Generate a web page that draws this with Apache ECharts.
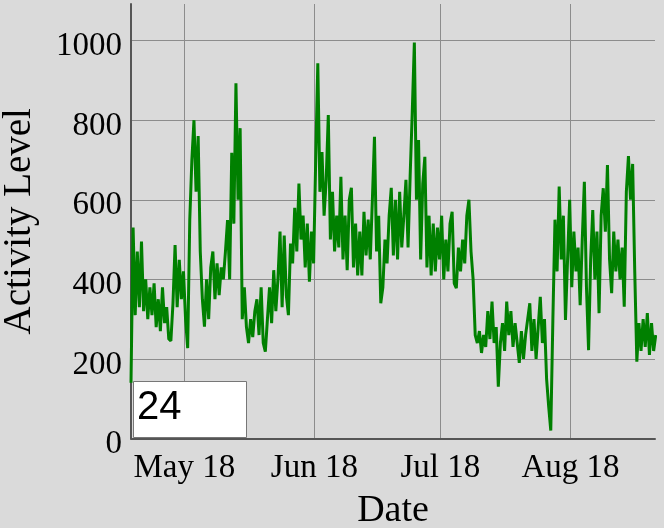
<!DOCTYPE html>
<html>
<head>
<meta charset="utf-8">
<script src="https://cdn.jsdelivr.net/npm/echarts@6/dist/echarts.min.js"></script>
<style>
  html, body { margin: 0; padding: 0; background: #dadada; }
  #chart { width: 664px; height: 528px; }
</style>
</head>
<body>
<div id="chart"></div>
<script>
// ---- DATA ----
// samples every 12 hours starting at the first sample time
const firstSample = new Date(2018, 3, 18, 7, 30).getTime();
const lastVisible = new Date(2018, 7, 21, 3, 20).getTime();
const stepMs = 12 * 3600 * 1000;

const activityPart1 = [
  140, 530, 310, 470, 330, 495, 320, 400, 300, 380,
  310, 390, 280, 350, 270, 380, 290, 330, 250, 245,
  340, 486, 330, 449, 350, 420, 300, 227, 549, 700,
  800, 620, 760, 470, 350, 281, 400, 300, 430, 470,
  350, 440, 360, 430, 400, 470, 549, 400, 718, 540
];
const activityPart2 = [
  893, 600, 780, 300, 380, 280, 240, 300, 255, 320,
  350, 260, 380, 240, 218, 300, 380, 290, 423, 320,
  400, 520, 330, 510, 360, 310, 490, 440, 580, 470,
  641, 500, 560, 430, 540, 394, 520, 440, 700, 943,
  620, 720, 560, 650, 813, 500, 620, 470, 560, 480
];
const activityPart3 = [
  658, 450, 560, 423, 600, 630, 430, 540, 410, 520,
  410, 570, 460, 550, 450, 600, 758, 470, 560, 340,
  380, 500, 440, 560, 630, 460, 600, 450, 620, 480,
  560, 650, 480, 660, 820, 995, 600, 750, 450, 640,
  708, 430, 560, 410, 540, 420, 530, 450, 560, 400
];
const activityPart4 = [
  500, 420, 540, 570, 390, 378, 480, 420, 500, 440,
  560, 600, 470, 400, 260, 240, 270, 215, 260, 230,
  320, 250, 344, 240, 280, 130, 240, 290, 220, 344,
  260, 320, 230, 290, 240, 190, 270, 200, 260, 300,
  340, 220, 300, 200, 280, 356, 240, 300, 150, 80
];
const activityPart5 = [
  20, 300, 550, 420, 633, 450, 560, 298, 450, 600,
  380, 520, 420, 480, 335, 500, 645, 380, 222, 450,
  574, 400, 520, 315, 560, 629, 520, 687, 450, 365,
  520, 420, 500, 400, 480, 331, 620, 710, 600, 690,
  420, 193, 290, 220, 300, 230, 315, 210, 290, 220,
  260
];
const monthNames = ['Jan','Feb','Mar','Apr','May','Jun','Jul','Aug','Sep','Oct','Nov','Dec'];
const yTicks = [0, 200, 400, 600, 800, 1000];
const rollPeriod = '24';

// ---- BUILD ----
const activity = [].concat(activityPart1, activityPart2, activityPart3, activityPart4, activityPart5);
const seriesData = activity.map((v, i) => [firstSample + i * stepMs, v]);

const chart = echarts.init(document.getElementById('chart'), null, { renderer: 'canvas' });
const serif = 'Liberation Serif, Times New Roman, serif';

chart.setOption({
  backgroundColor: '#dadada',
  animation: false,
  grid: { left: 131, right: 9, top: 4, bottom: 89.5, containLabel: false, outerBoundsMode: 'none' },
  xAxis: {
    type: 'time',
    min: firstSample,
    max: lastVisible,
    minInterval: 28 * 86400000,
    name: 'Date',
    nameLocation: 'middle',
    nameGap: 54,
    nameTextStyle: { fontFamily: serif, fontSize: 38, color: '#000' },
    axisLine: { show: true, lineStyle: { color: '#555', width: 2 } },
    axisTick: { show: false },
    minorTick: { show: false },
    axisLabel: {
      fontFamily: serif, fontSize: 33, color: '#000', margin: 13,
      showMinLabel: false, showMaxLabel: false,
      formatter: function (val) {
        const d = new Date(val);
        return monthNames[d.getMonth()] + ' ' + String(d.getFullYear()).slice(2);
      }
    },
    splitLine: { show: true, showMinLine: false, showMaxLine: false, lineStyle: { color: '#8c8c8c', width: 1 } }
  },
  yAxis: {
    type: 'value',
    min: 0,
    max: 1092,
    interval: 200,
    name: 'Activity Level',
    nameLocation: 'middle',
    nameGap: 92,
    nameTextStyle: { fontFamily: serif, fontSize: 39, color: '#000' },
    axisLine: { show: true, lineStyle: { color: '#555', width: 2 } },
    axisTick: { show: false },
    axisLabel: {
      color: '#000', margin: 9,
      showMaxLabel: false,
      formatter: function (v) { return yTicks.indexOf(v) >= 0 ? '{t|' + v + '}' : ''; },
      rich: { t: { fontFamily: serif, fontSize: 33, color: '#000', padding: [12, 0, 0, 0] } }
    },
    splitLine: { show: true, showMinLine: false, showMaxLine: false, lineStyle: { color: '#8c8c8c', width: 1 } }
  },
  series: [{
    type: 'line',
    data: seriesData,
    showSymbol: false,
    symbol: 'none',
    sampling: 'none',
    lineStyle: { color: '#008000', width: 3 },
    itemStyle: { color: '#008000' },
    z: 3
  }],
  graphic: [
    {
      type: 'rect', left: 133, top: 381, z: 100,
      shape: { width: 113, height: 56 },
      style: { fill: '#ffffff', stroke: '#777777', lineWidth: 1 }
    },
    {
      type: 'text', left: 137, top: 388, z: 101,
      style: { text: rollPeriod, fontFamily: 'Liberation Sans, Arial, sans-serif', fontSize: 40, fill: '#000' }
    }
  ]
});
</script>
</body>
</html>
